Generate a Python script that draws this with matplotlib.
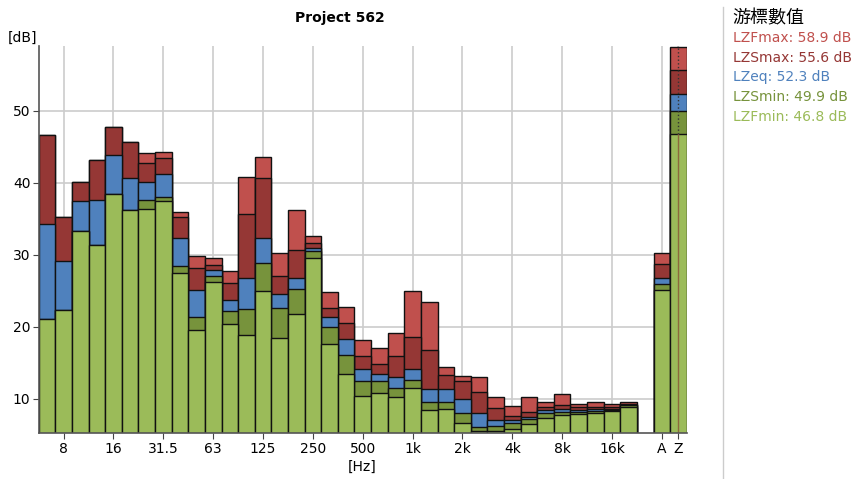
import numpy as np
import matplotlib.pyplot as plt
from matplotlib.lines import Line2D

# 1/3 octave bands 6.3 Hz .. 20 kHz, then A and Z totals
bands = ['6.3', '8', '10', '12.5', '16', '20', '25', '31.5', '40', '50', '63', '80',
         '100', '125', '160', '200', '250', '315', '400', '500', '630', '800',
         '1k', '1.25k', '1.6k', '2k', '2.5k', '3.15k', '4k', '5k', '6.3k', '8k',
         '10k', '12.5k', '16k', '20k', 'A', 'Z']
tick_labels = ['8', '16', '31.5', '63', '125', '250', '500', '1k', '2k', '4k', '8k', '16k', 'A', 'Z']

lzfmax = [46.6, 35.2, 40.1, 43.1, 47.8, 45.6, 44.1, 44.3, 35.9, 29.8, 29.5, 27.8,
          40.8, 43.6, 30.2, 36.2, 32.6, 24.8, 22.7, 18.1, 17.0, 19.1, 25.0, 23.4,
          14.4, 13.2, 13.0, 10.2, 9.0, 10.2, 9.5, 10.6, 9.3, 9.5, 9.3, 9.5, 30.2, 58.9]
lzsmax = [46.6, 35.2, 40.1, 43.1, 47.8, 45.6, 42.7, 43.4, 35.2, 28.2, 28.6, 26.1,
          35.6, 40.6, 27.1, 30.7, 31.6, 22.6, 20.5, 15.9, 14.8, 15.9, 18.6, 16.8,
          13.3, 12.5, 10.9, 8.7, 7.6, 8.2, 8.9, 9.1, 8.8, 8.9, 8.8, 9.3, 28.7, 55.6]
lzeq = [34.3, 29.2, 37.4, 37.6, 43.8, 40.6, 40.1, 41.2, 32.3, 25.1, 27.9, 23.7,
        26.8, 32.3, 24.5, 26.8, 30.9, 21.3, 18.3, 14.1, 13.5, 13.0, 14.1, 11.4,
        11.3, 9.9, 8.0, 7.1, 7.0, 7.5, 8.5, 8.6, 8.5, 8.6, 8.6, 9.2, 26.8, 52.3]
lzsmin = [21.1, 22.3, 33.3, 31.3, 38.4, 36.2, 37.6, 38.0, 28.5, 21.3, 27.1, 22.2,
          22.4, 28.8, 22.6, 25.2, 30.5, 19.9, 16.1, 12.5, 12.4, 11.5, 12.6, 9.6,
          9.5, 8.0, 6.1, 6.2, 6.6, 7.2, 8.0, 8.2, 8.2, 8.3, 8.5, 9.1, 25.9, 49.9]
lzfmin = [21.1, 22.3, 33.3, 31.3, 38.4, 36.2, 36.4, 37.4, 27.4, 19.5, 26.2, 20.4,
          18.8, 25.0, 18.4, 21.8, 29.5, 17.6, 13.5, 10.4, 10.8, 10.2, 11.5, 8.5,
          8.6, 6.7, 5.5, 5.5, 5.8, 6.5, 7.3, 7.7, 7.9, 8.0, 8.3, 8.9, 25.1, 46.8]

names = ['LZFmax', 'LZSmax', 'LZeq', 'LZSmin', 'LZFmin']
colors = ['#C0504D', '#953735', '#4F81BD', '#77933C', '#9BBB59']
series = [lzfmax, lzsmax, lzeq, lzsmin, lzfmin]

# bar positions: one slot per band, a gap before A/Z
x = np.array(list(range(36)) + [37, 38])
tick_pos = [x[bands.index(t)] for t in tick_labels]

plt.rcParams['font.family'] = ['DejaVu Sans']
fig = plt.figure(figsize=(8.51, 4.79), dpi=100)
ax = fig.add_axes([0.0455, 0.0954, 0.7615, 0.8086])

for i, (vals, col) in enumerate(zip(series, colors)):
    ax.bar(x, vals, width=1.0, color=col, edgecolor='#111111', linewidth=1.0, zorder=2 + i)

# cursor on Z
z = x[-1]
ax.plot([z, z], [0, lzfmin[-1]], color='#8c6a3c', lw=1.0, zorder=10)
ax.plot([z, z], [lzfmin[-1], 60], color='#333333', lw=1.0, ls=':', zorder=10)

ax.set_xlim(-0.5, 38.5)
ax.set_ylim(5.2, 59)
ax.set_yticks([10, 20, 30, 40, 50])
ax.set_xticks(tick_pos)
ax.set_xticklabels(tick_labels)
ax.tick_params(axis='both', labelsize=10, length=4, color='#444444', pad=2)
ax.grid(True, color='#cccccc', linewidth=1.2, zorder=0)
ax.set_axisbelow(True)
for s in ['top', 'right']:
    ax.spines[s].set_visible(False)
for s in ['left', 'bottom']:
    ax.spines[s].set_color('#555555')
    ax.spines[s].set_linewidth(1.2)
    ax.spines[s].set_zorder(20)

fig.text(0.399, 0.963, 'Project 562', fontsize=10, fontweight='bold', ha='center', va='center')
fig.text(0.009, 0.92, '[dB]', fontsize=10, ha='left', va='center')
fig.text(0.426, 0.025, '[Hz]', fontsize=10, ha='center', va='center')

# side panel with cursor values
fig.add_artist(Line2D([0.85, 0.85], [0.0, 0.985], color='#cccccc', lw=1.0))
fig.text(0.861, 0.962, '游標數值', fontsize=13, family=['Noto Sans CJK TC', 'DejaVu Sans'],
         ha='left', va='center')
for k, (name, vals, col) in enumerate(zip(names, series, colors)):
    fig.text(0.861, 0.921 - k * 0.0412, f'{name}: {vals[-1]} dB', fontsize=10,
             color=col, ha='left', va='center')

fig.savefig('out.png', dpi=100)
